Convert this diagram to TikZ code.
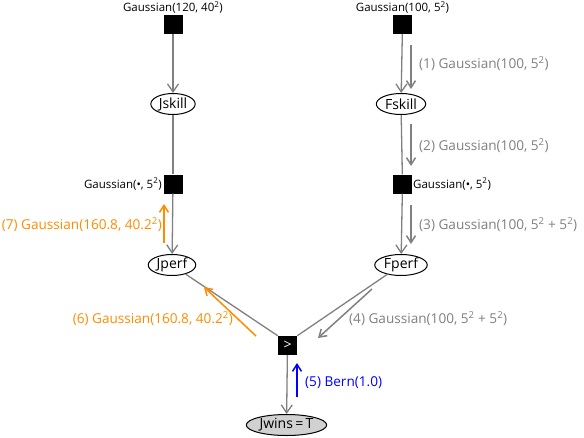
\documentclass[tikz,border=0pt]{standalone}
\usepackage{fontspec}
\setmainfont{Open Sans}
\usetikzlibrary{arrows.meta,shapes.geometric}
\definecolor{edgegray}{RGB}{128,128,128}
\definecolor{msggray}{RGB}{128,128,128}
\definecolor{msgorange}{RGB}{255,140,0}
\definecolor{msgblue}{RGB}{0,0,255}
\begin{document}
\begin{tikzpicture}[x=1pt,y=-1pt,
  factor/.style={fill=black,minimum size=19pt,inner sep=0pt},
  var/.style={ellipse,draw=black,line width=1pt,fill=white,inner xsep=1.5pt,inner ysep=0pt,minimum height=21pt,font=\fontsize{14}{16}\selectfont},
  flabel/.style={font=\fontsize{11.5}{13}\selectfont,inner sep=1pt},
  edge/.style={draw=edgegray,line width=1.3pt},
  edgearrow/.style={edge,-{Straight Barb[length=8pt,width=11pt]}},
  msg/.style={line width=1.5pt,-{Straight Barb[length=7pt,width=9pt]}},
  mlabel/.style={font=\fontsize{13.6}{16}\selectfont,inner sep=0pt}
]
\useasboundingbox (0,0) rectangle (584,437);

% factors
\node[factor] (fjs) at (173,24.5) {};
\node[factor] (ffs) at (402.5,24.5) {};
\node[factor] (fjp) at (173,184) {};
\node[factor] (ffp) at (402.5,184) {};
\node[factor,font=\fontsize{14}{16}\selectfont,text=white] (fcmp) at (287.5,345.5) {>};

% factor labels
\node[flabel,anchor=south] (lfjs) at (173,15) {Gaussian(120, 40\textsuperscript{2})};
\node[flabel,anchor=south] (lffs) at (402.5,15) {Gaussian(100, 5\textsuperscript{2})};
\node[flabel,anchor=east] (lfjp) at (163,184) {Gaussian(•, 5\textsuperscript{2})};
\node[flabel,anchor=west] (lffp) at (412,184) {Gaussian(•, 5\textsuperscript{2})};

% variables
\node[var] (js) at (173,104) {Jskill};
\node[var] (fs) at (401,104) {Fskill};
\node[var] (jp) at (172,265) {Jperf};
\node[var] (fp) at (401,265) {Fperf};
\node[var,fill=black!18,minimum width=63pt] (jw) at (286.5,425) {Jwins\,=\,T};

% edges
\draw[edgearrow] (fjs) -- (js);
\draw[edgearrow] (ffs) -- (fs);
\draw[edge] (js) -- (fjp);
\draw[edge] (fs) -- (ffp);
\draw[edgearrow] (fjp) -- (jp);
\draw[edgearrow] (ffp) -- (fp);
\draw[edge] (jp) -- (fcmp.north west);
\draw[edge] (fp) -- (fcmp.north east);
\draw[edgearrow] (fcmp) -- (jw);

% message arrows
\coordinate (m1a) at (411,45); \coordinate (m1b) at (411,89);
\coordinate (m2a) at (411,124); \coordinate (m2b) at (411,166);
\coordinate (m3a) at (411,205); \coordinate (m3b) at (411,244);
\coordinate (m4a) at (372,289); \coordinate (m4b) at (318,338);
\coordinate (m5a) at (297,397); \coordinate (m5b) at (297,363);
\coordinate (m6a) at (256,336); \coordinate (m6b) at (204,287);
\coordinate (m7a) at (164,243); \coordinate (m7b) at (164,204);

\draw[msg,msggray] (m1a) -- (m1b);
\draw[msg,msggray] (m2a) -- (m2b);
\draw[msg,msggray] (m3a) -- (m3b);
\draw[msg,msggray] (m4a) -- (m4b);
\draw[msg,msgblue] (m5a) -- (m5b);
\draw[msg,msgorange] (m6a) -- (m6b);
\draw[msg,msgorange] (m7a) -- (m7b);

% message labels
\node[mlabel,text=msggray,anchor=west] (l1) at (419,64) {(1) Gaussian(100, 5\textsuperscript{2})};
\node[mlabel,text=msggray,anchor=west] (l2) at (419,146) {(2) Gaussian(100, 5\textsuperscript{2})};
\node[mlabel,text=msggray,anchor=west] (l3) at (419,225) {(3) Gaussian(100, 5\textsuperscript{2} + 5\textsuperscript{2})};
\node[mlabel,text=msggray,anchor=west] (l4) at (349,319) {(4) Gaussian(100, 5\textsuperscript{2} + 5\textsuperscript{2})};
\node[mlabel,text=msgblue,anchor=west] (l5) at (305,383) {(5) Bern(1.0)};
\node[mlabel,text=msgorange,anchor=east] (l6) at (233,319) {(6) Gaussian(160.8, 40.2\textsuperscript{2})};
\node[mlabel,text=msgorange,anchor=east] (l7) at (162,225) {(7) Gaussian(160.8, 40.2\textsuperscript{2})};
\end{tikzpicture}
\end{document}
